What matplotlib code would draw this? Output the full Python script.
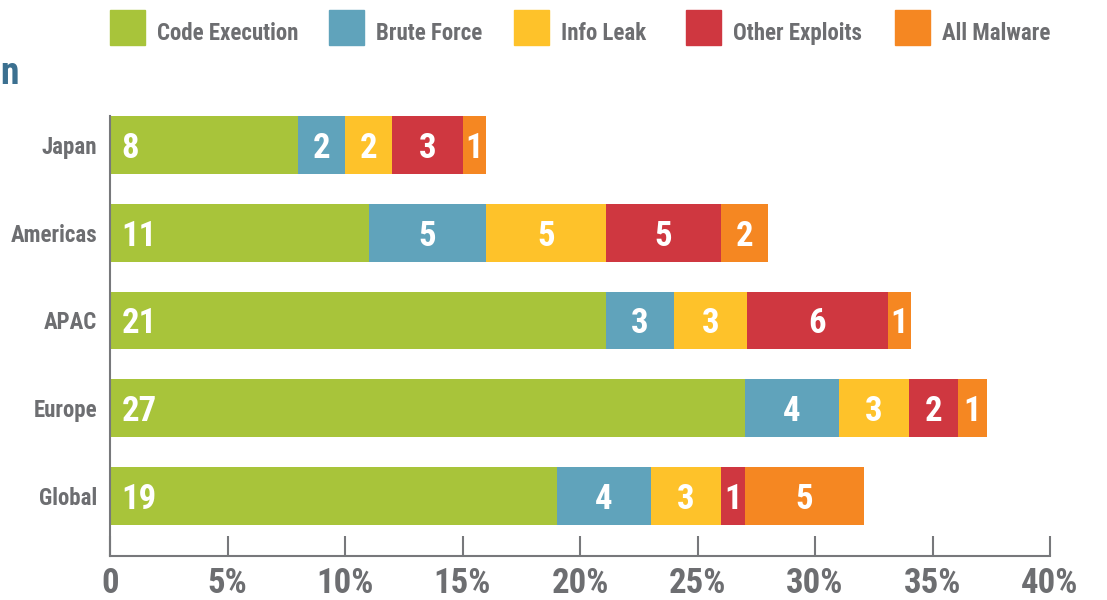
import matplotlib
matplotlib.use("Agg")
import matplotlib.pyplot as plt
from matplotlib import font_manager
from matplotlib.patches import Rectangle

# data (percent of attacks)
regions = ["Japan", "Americas", "APAC", "Europe", "Global"]
series_names = ["Code Execution", "Brute Force", "Info Leak", "Other Exploits", "All Malware"]
code_exec = [8.0, 11.0, 21.1, 27.0, 19.0]
brute_force = [2.0, 5.0, 2.9, 4.0, 4.0]
info_leak = [2.0, 5.1, 3.1, 3.0, 3.0]
other_exploits = [3.0, 4.9, 6.0, 2.1, 1.0]
all_malware = [1.0, 2.0, 1.0, 1.2, 5.1]
xticks = [0, 5, 10, 15, 20, 25, 30, 35, 40]
xtick_labels = ["0", "5%", "10%", "15%", "20%", "25%", "30%", "35%", "40%"]

colors = ["#a8c43a", "#60a3bb", "#fec22a", "#cf3740", "#f58722"]
gray = "#6d6e71"
axis_gray = "#77787b"

# pick a narrow bold font if one is there
have = {f.name for f in font_manager.fontManager.ttflist}
if "Liberation Sans Narrow" in have:
    fam = ["Liberation Sans Narrow", "DejaVu Sans"]
elif "Roboto Condensed" in have:
    fam = ["Roboto Condensed", "DejaVu Sans"]
else:
    fam = ["Roboto", "DejaVu Sans"]
plt.rcParams["font.family"] = fam

W, H = 1107, 600
fig = plt.figure(figsize=(W / 100, H / 100), dpi=100)
ax = fig.add_axes([110 / W, 44 / H, 940 / W, 440 / H])

data = [code_exec, brute_force, info_leak, other_exploits, all_malware]
ypos = list(range(len(regions)))
left = [0.0] * len(regions)
for s, vals in enumerate(data):
    ax.barh(ypos, vals, left=left, height=0.66, color=colors[s], linewidth=0, zorder=1)
    for i, v in enumerate(vals):
        lab = str(int(round(v)))
        if s == 0:
            ax.text(left[i] + 0.5, i, lab, ha="left", va="center_baseline",
                    color="white", fontsize=25, fontweight="bold")
        else:
            ax.text(left[i] + v / 2, i, lab, ha="center", va="center_baseline",
                    color="white", fontsize=25, fontweight="bold")
    left = [l + v for l, v in zip(left, vals)]

ax.set_xlim(0, 40)
ax.set_ylim(4.684, -0.33)
ax.set_yticks(ypos)
ax.set_yticklabels(regions, fontsize=16.5, fontweight="bold", color=gray)
ax.tick_params(axis="y", length=0, pad=9)
ax.set_xticks(xticks)
ax.set_xticklabels(xtick_labels, fontsize=25, fontweight="bold", color=gray)
ax.tick_params(axis="x", direction="in", length=14.5, width=1.5, color=axis_gray, pad=8)
for side in ["top", "right"]:
    ax.spines[side].set_visible(False)
for side in ["left", "bottom"]:
    ax.spines[side].set_color(axis_gray)
    ax.spines[side].set_linewidth(1.5)

# legend row across the top
leg_x = [110, 329, 514, 686, 895]
for s, name in enumerate(series_names):
    fig.patches.append(Rectangle((leg_x[s] / W, 1 - 45 / H), 35 / W, 35 / H,
                                 transform=fig.transFigure, color=colors[s]))
    fig.text((leg_x[s] + 47) / W, 1 - 31 / H, name, ha="left", va="center_baseline",
             fontsize=16.5, fontweight="bold", color=gray)

# title, only its last letter shows at the left edge
fig.text(0 / W, 1 - 84 / H, "n", ha="left", va="baseline",
         fontsize=27, fontweight="bold", color="#3b7090")

fig.savefig("out.png", dpi=100)
